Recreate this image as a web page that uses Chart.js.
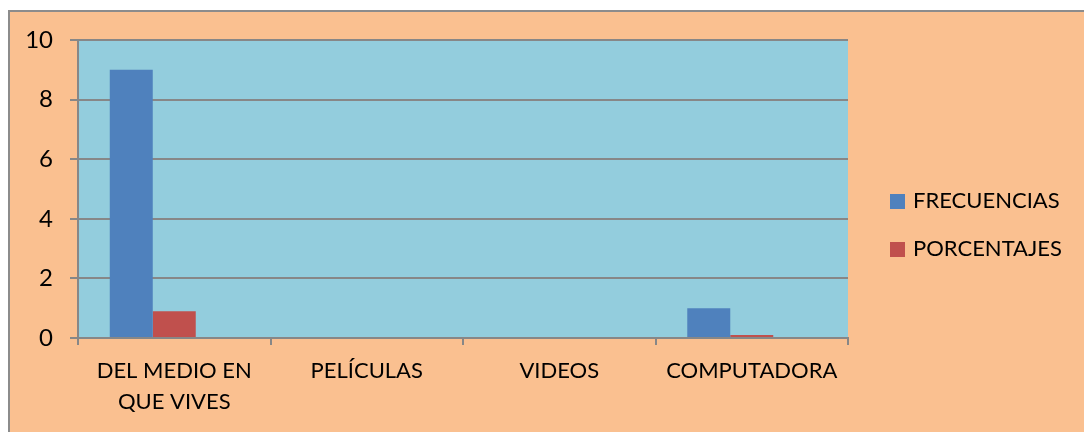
<!DOCTYPE html>
<html lang="es">
<head>
<meta charset="UTF-8">
<title>Frecuencias</title>
<script src="https://cdn.jsdelivr.net/npm/chart.js"></script>
<style>
  body { margin: 0; background: #ffffff; }
  canvas { display: block; }
</style>
</head>
<body>
<canvas id="grafico" width="1084" height="432"></canvas>
<script>
// datos
const categorias = [['DEL MEDIO EN', 'QUE VIVES'], 'PELÍCULAS', 'VIDEOS', 'COMPUTADORA'];
const frecuencias = [9, 0, 0, 1];
const porcentajes = [0.9, 0, 0, 0.1];
const vacio = [null, null, null, null]; // serie vacía que deja el hueco de Excel
const etiquetasY = [0, 2, 4, 6, 8, 10];

const FUENTE = 'Lato, "Open Sans", sans-serif';
const GRIS = '#878787';

// fondos: marco naranja y área del gráfico celeste
const fondo = {
  id: 'fondo',
  beforeDraw(chart) {
    const c = chart.ctx, a = chart.chartArea;
    c.save();
    c.fillStyle = '#FAC090';
    c.fillRect(9, 11, chart.width - 9, chart.height - 11);
    c.strokeStyle = '#8C8C8C';
    c.lineWidth = 2;
    c.beginPath();
    c.moveTo(9, chart.height);
    c.lineTo(9, 11);
    c.lineTo(chart.width, 11);
    c.stroke();
    c.fillStyle = '#93CDDD';
    c.fillRect(a.left, a.top, a.right - a.left, a.bottom - a.top);
    c.restore();
  }
};

// leyenda dibujada a mano a la derecha
const leyenda = {
  id: 'leyenda',
  afterDraw(chart) {
    const c = chart.ctx;
    const items = chart.data.datasets.filter(d => d.label);
    c.save();
    c.font = '22px ' + FUENTE;
    c.textBaseline = 'middle';
    items.forEach((d, i) => {
      const y = 201 + i * 48;
      c.fillStyle = d.backgroundColor;
      c.fillRect(890, y - 7, 15, 15);
      c.fillStyle = '#000';
      c.fillText(d.label, 913, y);
    });
    c.restore();
  }
};

new Chart(document.getElementById('grafico'), {
  type: 'bar',
  data: {
    labels: categorias,
    datasets: [
      { label: 'FRECUENCIAS', data: frecuencias, backgroundColor: '#4F81BD' },
      { label: 'PORCENTAJES', data: porcentajes, backgroundColor: '#C0504D' },
      { label: '', data: vacio, backgroundColor: 'rgba(0,0,0,0)' }
    ]
  },
  options: {
    responsive: false,
    animation: false,
    layout: { padding: { left: 0, top: 40, right: 236, bottom: 0 } },
    datasets: { bar: { barPercentage: 1.0, categoryPercentage: 0.67 } },
    scales: {
      x: {
        afterFit(s) { s.height = 94; },
        grid: { drawOnChartArea: false, color: GRIS, lineWidth: 2, tickLength: 7 },
        border: { color: GRIS, width: 2 },
        ticks: { color: '#000', font: { family: FUENTE, size: 22, lineHeight: 1.4 }, padding: 11, maxRotation: 0 }
      },
      y: {
        min: 0, max: 10,
        afterFit(s) { s.width = 78; },
        afterBuildTicks(s) { s.ticks = etiquetasY.map(v => ({ value: v })); },
        grid: { color: GRIS, lineWidth: 2, tickLength: 8 },
        border: { color: GRIS, width: 2 },
        ticks: { color: '#000', font: { family: FUENTE, size: 24 }, padding: 17 }
      }
    },
    plugins: { legend: { display: false }, tooltip: { enabled: false } }
  },
  plugins: [fondo, leyenda]
});
</script>
</body>
</html>
